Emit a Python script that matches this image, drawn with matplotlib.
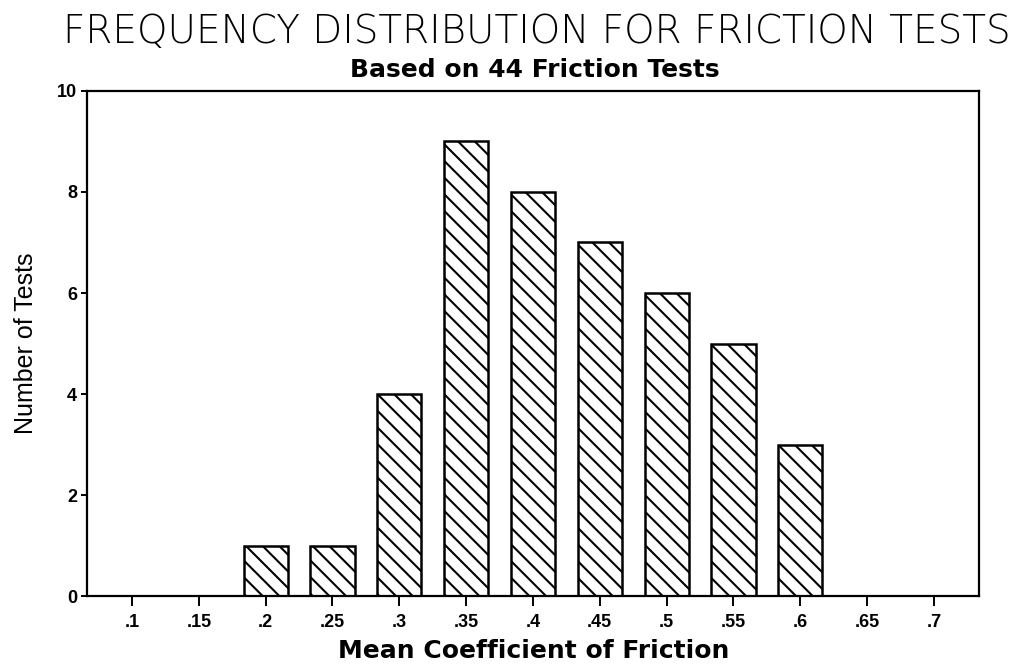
import numpy as np
import matplotlib.pyplot as plt

# friction bins and test counts
coef = [0.10, 0.15, 0.20, 0.25, 0.30, 0.35, 0.40, 0.45, 0.50, 0.55, 0.60, 0.65, 0.70]
counts = [0, 0, 1, 1, 4, 9, 8, 7, 6, 5, 3, 0, 0]
tick_labels = ['.1', '.15', '.2', '.25', '.3', '.35', '.4', '.45', '.5', '.55', '.6', '.65', '.7']
yticks = [0, 2, 4, 6, 8, 10]

plt.rcParams['hatch.linewidth'] = 1.5
plt.rcParams['font.family'] = ['DejaVu Sans']

fig = plt.figure(figsize=(10.33, 6.69), dpi=100)
ax = fig.add_axes([0.0847, 0.1084, 0.863, 0.756])

ax.bar(coef, counts, width=0.033, color='white', edgecolor='black',
       linewidth=1.8, hatch='\\\\')

ax.set_xlim(0.0667, 0.7337)
ax.set_ylim(0, 10)
ax.set_xticks(coef)
ax.set_xticklabels(tick_labels, fontsize=13, fontweight='bold', family='Liberation Sans')
ax.set_yticks(yticks)
ax.set_yticklabels([str(v) for v in yticks], fontsize=13, fontweight='bold', family='Liberation Sans')
ax.tick_params(axis='x', direction='out', length=7.5, width=1.4, pad=5)
ax.tick_params(axis='y', direction='out', length=4.5, width=1.4, pad=3)
for s in ax.spines.values():
    s.set_linewidth(1.6)

ax.set_xlabel('Mean Coefficient of Friction', fontsize=18, fontweight='bold', labelpad=6)
ax.set_ylabel('Number of Tests', fontsize=18, labelpad=14, family='Liberation Sans')

fig.text(0.52, 0.952, 'FREQUENCY DISTRIBUTION FOR FRICTION TESTS',
         ha='center', va='center', fontsize=28, fontweight='light')
fig.text(0.518, 0.895, 'Based on 44 Friction Tests',
         ha='center', va='center', fontsize=18, fontweight='bold')

fig.savefig('out.png', dpi=100)
